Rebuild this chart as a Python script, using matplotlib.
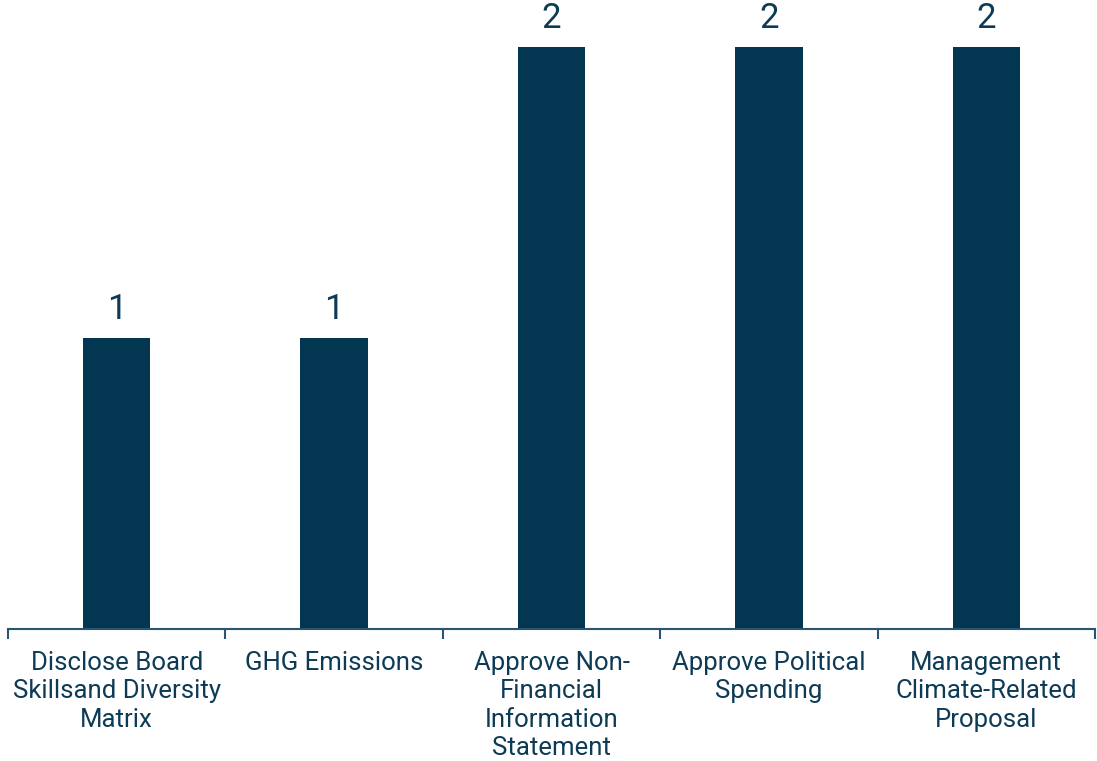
import numpy as np
import matplotlib
matplotlib.use("Agg")
from matplotlib import pyplot as plt

categories = ["Disclose Board\nSkillsand Diversity\nMatrix", "GHG Emissions",
              "Approve Non-\nFinancial\nInformation\nStatement",
              "Approve Political\nSpending", "Management\nClimate-Related\nProposal"]
counts = [1, 1, 2, 2, 2]

navy = "#033651"
text_col = "#0d3b56"

plt.rcParams['font.family'] = ['Roboto', 'DejaVu Sans']

fig = plt.figure(figsize=(10.97, 7.61), dpi=100)
ax = fig.add_axes([8/1097, 1 - 629/761, 1087/1097, 629/761])

x = np.arange(len(categories))
bars = ax.bar(x, counts, width=0.31, color=navy)
for b, v in zip(bars, counts):
    ax.text(b.get_x() + b.get_width()/2, v + 0.04, str(v), ha='center', va='bottom',
            fontsize=25, color=text_col)

ax.set_xlim(-0.5, len(categories) - 0.5)
ax.set_ylim(0, 2.16)
ax.set_yticks([])
for s in ['top', 'right', 'left']:
    ax.spines[s].set_visible(False)
ax.spines['bottom'].set_color("#2a5570")
ax.spines['bottom'].set_linewidth(1.5)

ax.set_xticks(x)
ax.set_xticklabels(categories, fontsize=18.5, color=text_col, linespacing=1.22, va='top')
ax.tick_params(axis='x', which='major', length=0, pad=16)
ax.set_xticks(np.arange(-0.5, len(categories)), minor=True)
ax.tick_params(axis='x', which='minor', length=7, width=1.5, color="#2a5570", direction='out')

fig.savefig("out.png", dpi=100)
